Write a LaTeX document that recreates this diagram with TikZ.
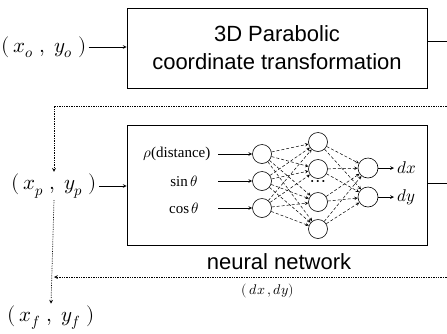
\documentclass[tikz,border=0pt]{standalone}
\usepackage{fontspec}
\usepackage{unicode-math}
\setmainfont{Liberation Serif}
\setmathfont{Latin Modern Math}
\newfontfamily\boxfont{Liberation Sans}
\usetikzlibrary{positioning}

\begin{document}
\begin{tikzpicture}[x=1pt,y=-1pt,line width=0.7pt,
  blk/.style={draw,minimum width=300pt,inner sep=0pt,align=center,font=\boxfont\fontsize{22}{28}\selectfont},
  neuron/.style={circle,draw,line width=0.6pt,minimum size=19pt,inner sep=0pt},
  syn/.style={-stealth,densely dashed,line width=0.5pt},
  fb/.style={-stealth,densely dotted},
  pt/.style={font=\fontsize{21}{24}\selectfont,inner sep=2pt},
  inlbl/.style={font=\fontsize{15}{18}\selectfont}]

\useasboundingbox (0,0) rectangle (447,333);

%transformation block
\node[blk,minimum height=80pt] (trans) at (277,48) {3D Parabolic\\coordinate transformation};
\node[pt] (xo) at (44,47) {$(\,x_o\;,\;y_o\;)$};
\draw[-stealth] (xo.east) -- (xo.east -| trans.west);
\coordinate (r1) at (447,41);
\draw (trans.east |- r1) -- (r1);

%neural network block
\node[blk,minimum height=120pt] (nnbox) at (277,185) {};
\node[font=\boxfont\fontsize{22}{26}\selectfont] (nnlbl) at (279,262) {neural network};
\node[pt] (xp) at (54,186) {$(\,x_p\;,\;y_p\;)$};
\draw[-stealth] (xp.east) -- (xp.east -| nnbox.west);
\coordinate (r3) at (447,183);
\draw (nnbox.east |- r3) -- (r3);

%feedback loop
\coordinate (r2) at (447,106);
\coordinate (r4) at (447,277);
\draw[fb] (r2) -- (r2 -| xp) -- (xp.north);
\node[pt] (xf) at (51,318) {$(\,x_f\;,\;y_f\;)$};
\draw[fb] (xp.south) -- (xf.north);
\draw[fb] (r4) -- (r4 -| xp);
\node[font=\fontsize{14}{16}\selectfont] (dxdy) at (268,291) {$(\,dx\,,dy)$};

%neurons
\foreach \y [count=\i] in {154,181,208}
  \node[neuron] (i\i) at (262,\y) {};
\foreach \y [count=\j] in {142,169,202,229}
  \node[neuron] (h\j) at (318,\y) {};
\foreach \y [count=\k] in {168,197}
  \node[neuron,minimum size=20pt] (o\k) at (368,\y) {};
\node[font=\fontsize{20}{20}\selectfont] (dots) at (318,183) {$\cdots$};

%inputs
\node[inlbl,anchor=east] (in1) at (214,154) {$\rho$(distance)};
\node[inlbl] (in2) at (184,181) {$\sin\theta$};
\node[inlbl] (in3) at (184,208) {$\cos\theta$};
\foreach \i in {1,2,3}
  \draw[-stealth] (218,0 |- i\i) -- (i\i.west);

%connections
\foreach \i in {1,2,3}
  \foreach \j in {1,...,4}
    \draw[syn] (i\i) -- (h\j);
\foreach \j in {1,...,4}
  \foreach \k in {1,2}
    \draw[syn] (h\j) -- (o\k);

%outputs
\node[font=\fontsize{17}{17}\selectfont,anchor=west] (dx) at (394,168) {$dx$};
\node[font=\fontsize{17}{17}\selectfont,anchor=west] (dy) at (394,197) {$dy$};
\draw[-stealth] (o1) -- (dx);
\draw[-stealth] (o2) -- (dy);

\end{tikzpicture}
\end{document}
